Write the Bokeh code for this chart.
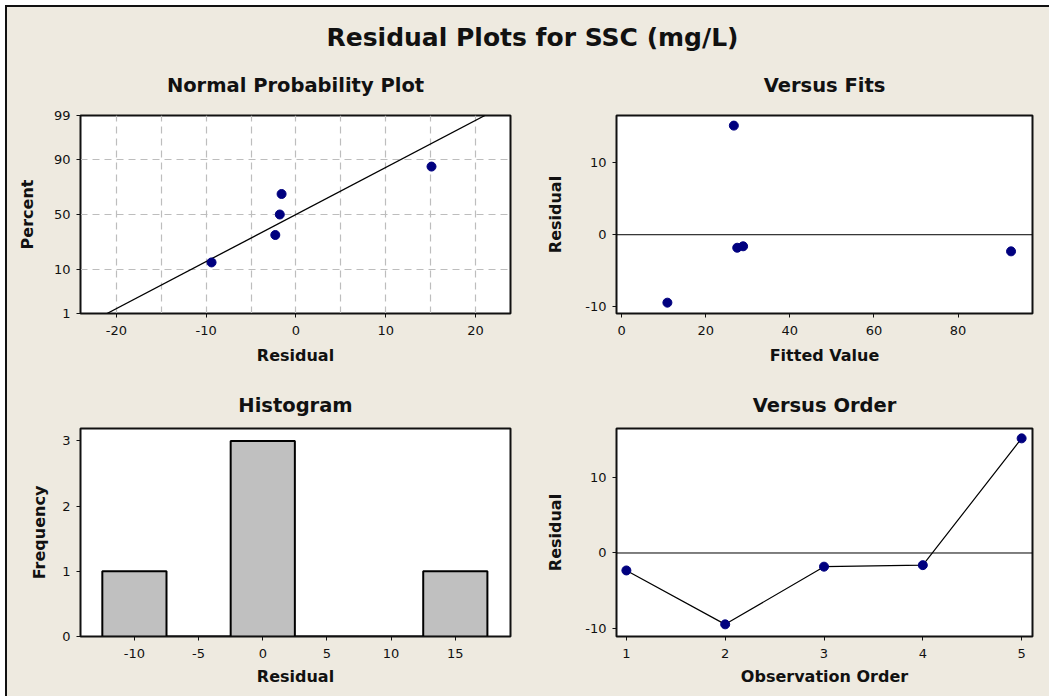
from statistics import NormalDist
import numpy as np
from bokeh.plotting import figure
from bokeh.layouts import column, row
from bokeh.models import Title, Label, Span, FixedTicker, ColumnDataSource, Range1d, Spacer
from bokeh.embed import file_html
from bokeh.resources import INLINE

# ---------------- data ----------------
observation = [1, 2, 3, 4, 5]
residuals = [-2.3, -9.4, -1.8, -1.6, 15.1]
fitted = [92.6, 10.9, 27.5, 28.9, 26.7]
np_percent = [13.0, 31.5, 50.0, 68.5, 87.0]        # plotted percent of sorted residuals
np_percent_ticks = [1, 10, 50, 90, 99]
np_x_ticks = [-20, -10, 0, 10, 20]
np_x_grid = [-20, -15, -10, -5, 0, 5, 10, 15, 20]
hist_centers = [-10, -5, 0, 5, 10, 15]
hist_counts = [1, 0, 3, 0, 0, 1]
hist_ticks = [-10, -5, 0, 5, 10, 15]
fits_ticks = [0, 20, 40, 60, 80]
res_ticks = [-10, 0, 10]
freq_ticks = [0, 1, 2, 3]

MAIN_TITLE = "Residual Plots for SSC (mg/L)"

# ---------------- style ----------------
BG = "#EEEAE0"
FONT = "DejaVu Sans"
INK = "#111111"
PT = "#00007F"

nd = NormalDist()
z = lambda p: nd.inv_cdf(p / 100.0)


def hyphen_labels(ticks):
    return {t: (("-" + str(abs(t))) if t < 0 else str(t)) for t in ticks}


def make_fig(w, h, left, right, top, bottom, xr, yr, title, tstand, xlabel, ylabel,
             ystand, xstand):
    p = figure(width=w, height=h, x_range=Range1d(*xr), y_range=Range1d(*yr),
               output_backend="svg", toolbar_location=None,
               min_border_left=left, min_border_right=right,
               min_border_top=top, min_border_bottom=bottom,
               background_fill_color="white", border_fill_color=BG,
               outline_line_color=INK, outline_line_width=2)
    p.title = Title(text=title, align="center", text_font=FONT,
                    text_font_size="19.5px", text_font_style="bold",
                    text_color=INK, standoff=tstand)
    for ax in (p.xaxis[0], p.yaxis[0]):
        ax.axis_label_text_font = FONT
        ax.axis_label_text_font_size = "16px"
        ax.axis_label_text_font_style = "bold"
        ax.axis_label_text_color = INK
        ax.major_label_text_font = FONT
        ax.major_label_text_font_size = "13px"
        ax.major_label_text_color = INK
        ax.major_tick_out = 4
        ax.major_tick_in = 0
        ax.minor_tick_out = 0
        ax.minor_tick_in = 0
        ax.major_tick_line_color = INK
        ax.axis_line_color = INK
    p.xaxis.axis_label = xlabel
    p.yaxis.axis_label = ylabel
    p.xaxis.major_label_standoff = 8
    p.yaxis.major_label_standoff = 6
    p.xaxis.axis_label_standoff = xstand
    p.yaxis.axis_label_standoff = ystand
    p.xgrid.grid_line_color = None
    p.ygrid.grid_line_color = None
    return p


# ---------------- title strip ----------------
STRIP_W, STRIP_H = 1045, 44
pt = figure(width=STRIP_W, height=STRIP_H, x_range=Range1d(0, 1), y_range=Range1d(0, 1),
            output_backend="svg", toolbar_location=None,
            min_border_left=0, min_border_right=0, min_border_top=0, min_border_bottom=0,
            background_fill_color=BG, border_fill_color=BG, outline_line_color=None)
pt.axis.visible = False
pt.grid.grid_line_color = None
pt.add_layout(Label(x=525, y=STRIP_H - 30, x_units="screen", y_units="screen",
                    text=MAIN_TITLE, text_align="center", text_baseline="middle",
                    text_font=FONT, text_font_size="25px", text_font_style="bold",
                    text_color=INK))

# ---------------- normal probability plot ----------------
p1 = make_fig(513, 328, 73, 10, 64, 66, (-24.0, 23.9), (z(1), z(99)),
              "Normal Probability Plot", 38, "Residual", "Percent", 14, 8)
p1.xaxis.ticker = FixedTicker(ticks=np_x_ticks)
p1.xaxis.major_label_overrides = hyphen_labels(np_x_ticks)
p1.yaxis.ticker = FixedTicker(ticks=[z(v) for v in np_percent_ticks])
p1.yaxis.major_label_overrides = {z(v): str(v) for v in np_percent_ticks}
p1.xgrid.ticker = FixedTicker(ticks=np_x_grid)
p1.ygrid.ticker = FixedTicker(ticks=[z(v) for v in np_percent_ticks])
for g in (p1.xgrid[0], p1.ygrid[0]):
    g.grid_line_color = "#BDBDBD"
    g.grid_line_dash = "7 5"
    g.grid_line_width = 1.2
mu = float(np.mean(residuals))
sd = float(np.std(residuals, ddof=1))
zline = [z(1), z(99)]
p1.line([mu + sd * v for v in zline], zline, line_color="black", line_width=1.3)
src_np = ColumnDataSource(dict(x=sorted(residuals), y=[z(v) for v in np_percent]))
p1.scatter("x", "y", source=src_np, size=9, fill_color=PT, line_color=PT)

# ---------------- versus fits ----------------
p2 = make_fig(532, 328, 96, 20, 64, 66, (-1.2, 97.7), (-10.9, 16.5),
              "Versus Fits", 38, "Fitted Value", "Residual", 17, 8)
p2.xaxis.ticker = FixedTicker(ticks=fits_ticks)
p2.yaxis.ticker = FixedTicker(ticks=res_ticks)
p2.yaxis.major_label_overrides = hyphen_labels(res_ticks)
p2.add_layout(Span(location=0, dimension="width", line_color="black", line_width=1))
src_f = ColumnDataSource(dict(x=fitted, y=residuals))
p2.scatter("x", "y", source=src_f, size=9, fill_color=PT, line_color=PT)

# ---------------- histogram ----------------
p3 = make_fig(513, 320, 73, 10, 49, 63, (-14.2, 19.3), (0, 3.19),
              "Histogram", 24, "Residual", "Frequency", 10, 6)
p3.xaxis.ticker = FixedTicker(ticks=hist_ticks)
p3.xaxis.major_label_overrides = hyphen_labels(hist_ticks)
p3.yaxis.ticker = FixedTicker(ticks=freq_ticks)
src_h = ColumnDataSource(dict(left=[c - 2.5 for c in hist_centers],
                              right=[c + 2.5 for c in hist_centers],
                              top=hist_counts, bottom=[0] * len(hist_counts)))
p3.quad(left="left", right="right", top="top", bottom="bottom", source=src_h,
        fill_color="#C0C0C0", line_color="black", line_width=2)

# ---------------- versus order ----------------
p4 = make_fig(532, 320, 96, 20, 49, 62, (0.9, 5.11), (-11.0, 16.4),
              "Versus Order", 24, "Observation Order", "Residual", 17, 6)
p4.xaxis.ticker = FixedTicker(ticks=observation)
p4.yaxis.ticker = FixedTicker(ticks=res_ticks)
p4.yaxis.major_label_overrides = hyphen_labels(res_ticks)
p4.add_layout(Span(location=0, dimension="width", line_color="black", line_width=1))
src_o = ColumnDataSource(dict(x=observation, y=residuals))
p4.line("x", "y", source=src_o, line_color="black", line_width=1.2)
p4.scatter("x", "y", source=src_o, size=9, fill_color=PT, line_color=PT)

# outer frame lines (left and top) as thin dark spacers, offsets as plain spacers
top_line = Spacer(width=STRIP_W, height=2, styles={"background-color": "#111111"})
inner = column(top_line, pt, row(p1, p2, styles={"background-color": BG}),
               row(p3, p4, styles={"background-color": BG}),
               styles={"background-color": BG})
left_line = Spacer(width=2, height=2 + STRIP_H + 328 + 320,
                   styles={"background-color": "#111111"})
layout = column(Spacer(width=5, height=5), row(Spacer(width=5, height=5), left_line, inner))

open("out.html", "w").write(file_html(layout, INLINE))
